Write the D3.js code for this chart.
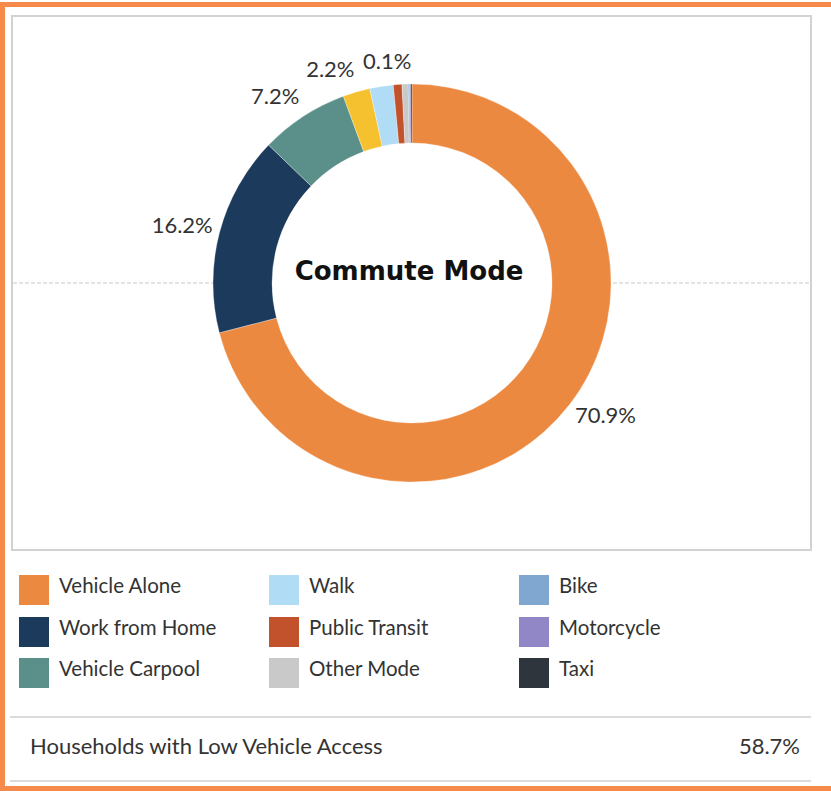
<!DOCTYPE html>
<html>
<head>
<meta charset="utf-8">
<script src="https://cdn.jsdelivr.net/npm/d3@7"></script>
<style>
  html, body { margin: 0; padding: 0; background: #fff; }
  svg { display: block; }
</style>
</head>
<body>
<svg id="chart" width="831" height="791"></svg>
<script>
// ---- data ----
const categories = ["Vehicle Alone", "Work from Home", "Vehicle Carpool", "Unlisted", "Walk",
                    "Public Transit", "Other Mode", "Bike", "Motorcycle", "Taxi"];
const values = [70.9, 16.2, 7.2, 2.2, 1.9, 0.7, 0.5, 0.1, 0.1, 0.1];
const colors = ["#ec8940", "#1b3a5c", "#5b8f89", "#f6c12f", "#b1dcf6",
                "#c1522c", "#c9c9c9", "#7fa7d0", "#9287c6", "#2e353d"];
const legendCategories = ["Vehicle Alone", "Work from Home", "Vehicle Carpool",
                          "Walk", "Public Transit", "Other Mode",
                          "Bike", "Motorcycle", "Taxi"];
const title = "Commute Mode";
const footLabel = "Households with Low Vehicle Access";
const footValue = "58.7%";

// ---- layout ----
const svg = d3.select("#chart");
const W = 831, H = 791;
const font = "Lato, 'Open Sans', sans-serif";
const textColor = "#333";

// orange frame (top, left, bottom)
const frameColor = "#f58a4b";
svg.append("rect").attr("x", 0).attr("y", 2).attr("width", W).attr("height", 5).attr("fill", frameColor);
svg.append("rect").attr("x", 0).attr("y", 2).attr("width", 5).attr("height", H - 2).attr("fill", frameColor);
svg.append("rect").attr("x", 0).attr("y", 786).attr("width", W).attr("height", 5).attr("fill", frameColor);

// chart panel
const panel = {x: 12, y: 16, w: 799, h: 534};
svg.append("rect").attr("x", panel.x).attr("y", panel.y).attr("width", panel.w).attr("height", panel.h)
   .attr("fill", "#fff").attr("stroke", "#d2d2d2").attr("stroke-width", 2);

const cx = 412, cy = 283, rOut = 199, rIn = 140;

// dashed center line
svg.append("line").attr("x1", panel.x + 1).attr("x2", panel.x + panel.w - 1)
   .attr("y1", cy).attr("y2", cy)
   .attr("stroke", "#c8c8c8").attr("stroke-width", 1).attr("stroke-dasharray", "4,2");

const g = svg.append("g").attr("transform", `translate(${cx},${cy})`);
g.append("circle").attr("r", rIn).attr("fill", "#fff");

const color = d3.scaleOrdinal().domain(categories).range(colors);
const pie = d3.pie().sort(null).value(d => d.value);
const data = categories.map((c, i) => ({cat: c, value: values[i]}));
const arcs = pie(data);
const arc = d3.arc().innerRadius(rIn).outerRadius(rOut);

g.selectAll("path.slice").data(arcs).enter().append("path")
  .attr("class", "slice")
  .attr("d", arc)
  .attr("fill", d => color(d.data.cat))
  .attr("stroke", "#fff").attr("stroke-width", 0.3);

// labels with greedy collision avoidance (last slice first)
const rLabX = 206, rLabY = 220;
const placed = [];
const order = arcs.map((d, i) => i).reverse();
order.forEach(i => {
  const d = arcs[i];
  const a = (d.startAngle + d.endAngle) / 2;
  const x = rLabX * Math.sin(a);
  const y = -rLabY * Math.cos(a) - 3;
  const t = g.append("text")
    .attr("x", x).attr("y", y)
    .attr("text-anchor", a > Math.PI ? "end" : "start")
    .attr("dominant-baseline", "central")
    .attr("font-family", font).attr("font-size", 22).attr("fill", textColor)
    .text(d3.format(".1f")(d.data.value) + "%");
  const b = t.node().getBBox();
  const hit = placed.some(p => !(b.x + b.width + 2 < p.x || p.x + p.width + 2 < b.x ||
                                  b.y + b.height < p.y || p.y + p.height < b.y));
  if (hit) t.remove(); else placed.push(b);
});

// title
g.append("text").attr("x", -3).attr("y", -12)
  .attr("text-anchor", "middle").attr("dominant-baseline", "central")
  .attr("font-family", "'DejaVu Sans', sans-serif").attr("font-weight", "bold")
  .attr("font-size", 26).attr("fill", "#111").text(title);

// legend
const legCols = [19, 269, 519];
const legRows = [575, 617, 658];
const sq = 30;
const leg = svg.append("g");
legendCategories.forEach((c, i) => {
  const col = Math.floor(i / 3), row = i % 3;
  const gx = legCols[col], gy = legRows[row];
  leg.append("rect").attr("x", gx).attr("y", gy).attr("width", sq).attr("height", sq)
     .attr("fill", color(c));
  leg.append("text").attr("x", gx + 40).attr("y", gy + 10)
     .attr("dominant-baseline", "central")
     .attr("font-family", font).attr("font-size", 20.5).attr("fill", textColor).text(c);
});

// footer
svg.append("line").attr("x1", 10).attr("x2", 811).attr("y1", 717).attr("y2", 717)
   .attr("stroke", "#cfcfcf").attr("stroke-width", 1.5);
svg.append("line").attr("x1", 10).attr("x2", 811).attr("y1", 781).attr("y2", 781)
   .attr("stroke", "#cfcfcf").attr("stroke-width", 1.5);
svg.append("text").attr("x", 30).attr("y", 745).attr("dominant-baseline", "central")
   .attr("font-family", font).attr("font-size", 22).attr("fill", textColor).text(footLabel);
svg.append("text").attr("x", 800).attr("y", 745).attr("text-anchor", "end")
   .attr("dominant-baseline", "central")
   .attr("font-family", font).attr("font-size", 22).attr("fill", textColor).text(footValue);
</script>
</body>
</html>
